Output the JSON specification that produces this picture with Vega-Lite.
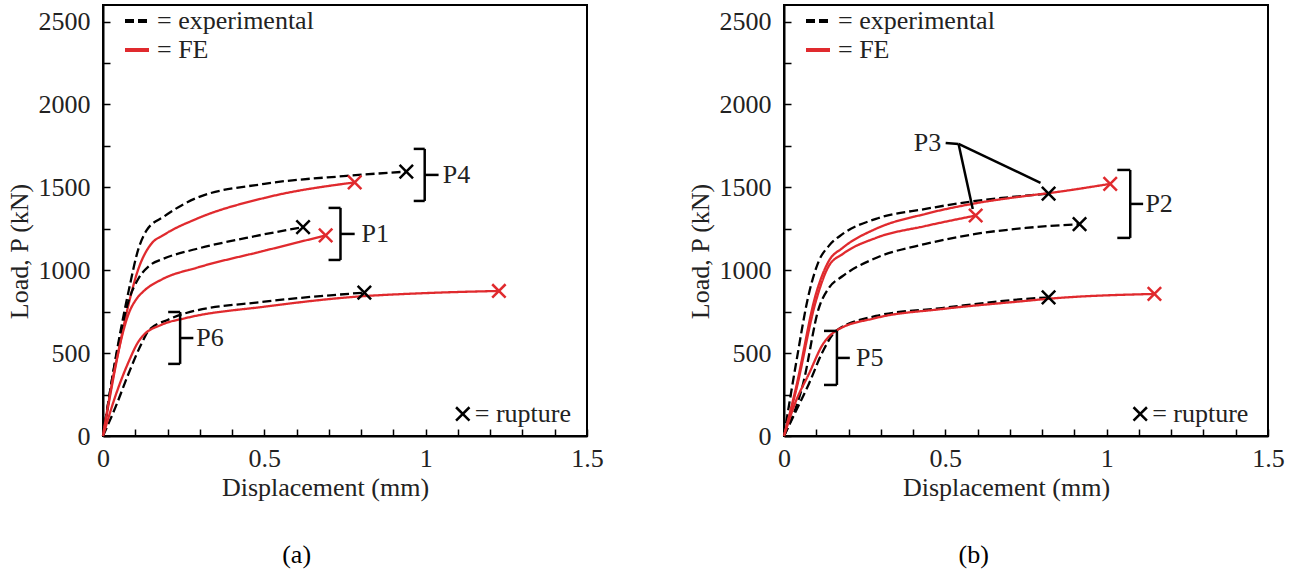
{
  "$schema": "https://vega.github.io/schema/vega-lite/v6.json",
  "padding": {"left": 5, "top": 4, "right": 5, "bottom": 0},
  "spacing": 81,
  "datasets": {
    "curves": [
      {"panel":"a","spec":"P4","type":"experimental","d":0,"load":0},
      {"panel":"a","spec":"P4","type":"experimental","d":0.04,"load":480},
      {"panel":"a","spec":"P4","type":"experimental","d":0.08,"load":880},
      {"panel":"a","spec":"P4","type":"experimental","d":0.11,"load":1130},
      {"panel":"a","spec":"P4","type":"experimental","d":0.135,"load":1240},
      {"panel":"a","spec":"P4","type":"experimental","d":0.19,"load":1325},
      {"panel":"a","spec":"P4","type":"experimental","d":0.29,"load":1436},
      {"panel":"a","spec":"P4","type":"experimental","d":0.5,"load":1521},
      {"panel":"a","spec":"P4","type":"experimental","d":0.755,"load":1569},
      {"panel":"a","spec":"P4","type":"experimental","d":0.94,"load":1595},
      {"panel":"a","spec":"P4","type":"FE","d":0,"load":0},
      {"panel":"a","spec":"P4","type":"FE","d":0.04,"load":430},
      {"panel":"a","spec":"P4","type":"FE","d":0.08,"load":800},
      {"panel":"a","spec":"P4","type":"FE","d":0.11,"load":1010},
      {"panel":"a","spec":"P4","type":"FE","d":0.13,"load":1100},
      {"panel":"a","spec":"P4","type":"FE","d":0.15,"load":1160},
      {"panel":"a","spec":"P4","type":"FE","d":0.19,"load":1215},
      {"panel":"a","spec":"P4","type":"FE","d":0.29,"load":1310},
      {"panel":"a","spec":"P4","type":"FE","d":0.5,"load":1436},
      {"panel":"a","spec":"P4","type":"FE","d":0.78,"load":1530},
      {"panel":"a","spec":"P1","type":"experimental","d":0,"load":0},
      {"panel":"a","spec":"P1","type":"experimental","d":0.04,"load":470},
      {"panel":"a","spec":"P1","type":"experimental","d":0.08,"load":820},
      {"panel":"a","spec":"P1","type":"experimental","d":0.11,"load":950},
      {"panel":"a","spec":"P1","type":"experimental","d":0.143,"load":1026},
      {"panel":"a","spec":"P1","type":"experimental","d":0.186,"load":1068},
      {"panel":"a","spec":"P1","type":"experimental","d":0.289,"load":1128},
      {"panel":"a","spec":"P1","type":"experimental","d":0.444,"load":1195},
      {"panel":"a","spec":"P1","type":"experimental","d":0.62,"load":1260},
      {"panel":"a","spec":"P1","type":"FE","d":0,"load":0},
      {"panel":"a","spec":"P1","type":"FE","d":0.04,"load":440},
      {"panel":"a","spec":"P1","type":"FE","d":0.08,"load":740},
      {"panel":"a","spec":"P1","type":"FE","d":0.105,"load":830},
      {"panel":"a","spec":"P1","type":"FE","d":0.124,"load":870},
      {"panel":"a","spec":"P1","type":"FE","d":0.186,"load":948},
      {"panel":"a","spec":"P1","type":"FE","d":0.289,"load":1014},
      {"panel":"a","spec":"P1","type":"FE","d":0.497,"load":1116},
      {"panel":"a","spec":"P1","type":"FE","d":0.69,"load":1210},
      {"panel":"a","spec":"P6","type":"experimental","d":0,"load":0},
      {"panel":"a","spec":"P6","type":"experimental","d":0.04,"load":180},
      {"panel":"a","spec":"P6","type":"experimental","d":0.08,"load":380},
      {"panel":"a","spec":"P6","type":"experimental","d":0.12,"load":560},
      {"panel":"a","spec":"P6","type":"experimental","d":0.143,"load":640},
      {"panel":"a","spec":"P6","type":"experimental","d":0.2,"load":700},
      {"panel":"a","spec":"P6","type":"experimental","d":0.258,"load":742},
      {"panel":"a","spec":"P6","type":"experimental","d":0.5,"load":810},
      {"panel":"a","spec":"P6","type":"experimental","d":0.81,"load":865},
      {"panel":"a","spec":"P6","type":"FE","d":0,"load":0},
      {"panel":"a","spec":"P6","type":"FE","d":0.04,"load":250},
      {"panel":"a","spec":"P6","type":"FE","d":0.08,"load":450},
      {"panel":"a","spec":"P6","type":"FE","d":0.11,"load":570},
      {"panel":"a","spec":"P6","type":"FE","d":0.124,"load":605},
      {"panel":"a","spec":"P6","type":"FE","d":0.18,"load":670},
      {"panel":"a","spec":"P6","type":"FE","d":0.258,"load":712},
      {"panel":"a","spec":"P6","type":"FE","d":0.5,"load":780},
      {"panel":"a","spec":"P6","type":"FE","d":0.776,"load":839},
      {"panel":"a","spec":"P6","type":"FE","d":1.0,"load":862},
      {"panel":"a","spec":"P6","type":"FE","d":1.227,"load":875},
      {"panel":"b","spec":"P3","type":"experimental","d":0,"load":0},
      {"panel":"b","spec":"P3","type":"experimental","d":0.037,"load":434},
      {"panel":"b","spec":"P3","type":"experimental","d":0.077,"load":857},
      {"panel":"b","spec":"P3","type":"experimental","d":0.108,"load":1056},
      {"panel":"b","spec":"P3","type":"experimental","d":0.139,"load":1147},
      {"panel":"b","spec":"P3","type":"experimental","d":0.182,"load":1219},
      {"panel":"b","spec":"P3","type":"experimental","d":0.285,"load":1310},
      {"panel":"b","spec":"P3","type":"experimental","d":0.439,"load":1370},
      {"panel":"b","spec":"P3","type":"experimental","d":0.594,"load":1418},
      {"panel":"b","spec":"P3","type":"experimental","d":0.749,"load":1450},
      {"panel":"b","spec":"P3","type":"experimental","d":0.82,"load":1462},
      {"panel":"b","spec":"P3","type":"FE","d":0,"load":0},
      {"panel":"b","spec":"P3","type":"FE","d":0.037,"load":271},
      {"panel":"b","spec":"P3","type":"FE","d":0.099,"load":815},
      {"panel":"b","spec":"P3","type":"FE","d":0.139,"load":1026},
      {"panel":"b","spec":"P3","type":"FE","d":0.182,"load":1098},
      {"panel":"b","spec":"P3","type":"FE","d":0.285,"load":1195},
      {"panel":"b","spec":"P3","type":"FE","d":0.439,"load":1267},
      {"panel":"b","spec":"P3","type":"FE","d":0.594,"load":1330},
      {"panel":"b","spec":"P2","type":"FE","d":0,"load":0},
      {"panel":"b","spec":"P2","type":"FE","d":0.037,"load":290},
      {"panel":"b","spec":"P2","type":"FE","d":0.099,"load":857},
      {"panel":"b","spec":"P2","type":"FE","d":0.139,"load":1056},
      {"panel":"b","spec":"P2","type":"FE","d":0.182,"load":1135},
      {"panel":"b","spec":"P2","type":"FE","d":0.285,"load":1250},
      {"panel":"b","spec":"P2","type":"FE","d":0.439,"load":1340},
      {"panel":"b","spec":"P2","type":"FE","d":0.594,"load":1404},
      {"panel":"b","spec":"P2","type":"FE","d":0.749,"load":1448},
      {"panel":"b","spec":"P2","type":"FE","d":0.82,"load":1465},
      {"panel":"b","spec":"P2","type":"FE","d":1.011,"load":1521},
      {"panel":"b","spec":"P2","type":"experimental","d":0,"load":0},
      {"panel":"b","spec":"P2","type":"experimental","d":0.059,"load":314},
      {"panel":"b","spec":"P2","type":"experimental","d":0.108,"load":772},
      {"panel":"b","spec":"P2","type":"experimental","d":0.139,"load":893},
      {"panel":"b","spec":"P2","type":"experimental","d":0.182,"load":965},
      {"panel":"b","spec":"P2","type":"experimental","d":0.285,"load":1074},
      {"panel":"b","spec":"P2","type":"experimental","d":0.439,"load":1159},
      {"panel":"b","spec":"P2","type":"experimental","d":0.594,"load":1219},
      {"panel":"b","spec":"P2","type":"experimental","d":0.749,"load":1255},
      {"panel":"b","spec":"P2","type":"experimental","d":0.916,"load":1278},
      {"panel":"b","spec":"P5","type":"experimental","d":0,"load":0},
      {"panel":"b","spec":"P5","type":"experimental","d":0.037,"load":151},
      {"panel":"b","spec":"P5","type":"experimental","d":0.077,"load":314},
      {"panel":"b","spec":"P5","type":"experimental","d":0.121,"load":513},
      {"panel":"b","spec":"P5","type":"experimental","d":0.161,"load":634},
      {"panel":"b","spec":"P5","type":"experimental","d":0.285,"load":724},
      {"panel":"b","spec":"P5","type":"experimental","d":0.49,"load":772},
      {"panel":"b","spec":"P5","type":"experimental","d":0.749,"load":827},
      {"panel":"b","spec":"P5","type":"experimental","d":0.82,"load":836},
      {"panel":"b","spec":"P5","type":"FE","d":0,"load":0},
      {"panel":"b","spec":"P5","type":"FE","d":0.037,"load":211},
      {"panel":"b","spec":"P5","type":"FE","d":0.077,"load":374},
      {"panel":"b","spec":"P5","type":"FE","d":0.121,"load":555},
      {"panel":"b","spec":"P5","type":"FE","d":0.161,"load":634},
      {"panel":"b","spec":"P5","type":"FE","d":0.285,"load":712},
      {"panel":"b","spec":"P5","type":"FE","d":0.49,"load":766},
      {"panel":"b","spec":"P5","type":"FE","d":0.749,"load":815},
      {"panel":"b","spec":"P5","type":"FE","d":0.82,"load":828},
      {"panel":"b","spec":"P5","type":"FE","d":1.148,"load":857}
    ],
    "ruptures": [
      {"panel":"a","kind":"experimental","d":0.94,"load":1595},
      {"panel":"a","kind":"FE","d":0.78,"load":1530},
      {"panel":"a","kind":"experimental","d":0.62,"load":1260},
      {"panel":"a","kind":"FE","d":0.69,"load":1210},
      {"panel":"a","kind":"experimental","d":0.81,"load":865},
      {"panel":"a","kind":"FE","d":1.227,"load":875},
      {"panel":"a","kind":"key","d":1.115,"load":133},
      {"panel":"b","kind":"experimental","d":0.82,"load":1462},
      {"panel":"b","kind":"FE","d":0.594,"load":1330},
      {"panel":"b","kind":"FE","d":1.011,"load":1521},
      {"panel":"b","kind":"experimental","d":0.916,"load":1278},
      {"panel":"b","kind":"experimental","d":0.82,"load":836},
      {"panel":"b","kind":"FE","d":1.148,"load":857},
      {"panel":"b","kind":"key","d":1.104,"load":133}
    ],
    "segments": [
      {"panel":"a","d":0.997,"load":1418,"d2":0.997,"load2":1732},
      {"panel":"a","d":0.963,"load":1732,"d2":0.997,"load2":1732},
      {"panel":"a","d":0.963,"load":1418,"d2":0.997,"load2":1418},
      {"panel":"a","d":0.997,"load":1575,"d2":1.04,"load2":1575},
      {"panel":"a","d":0.736,"load":1062,"d2":0.736,"load2":1376},
      {"panel":"a","d":0.699,"load":1376,"d2":0.736,"load2":1376},
      {"panel":"a","d":0.699,"load":1062,"d2":0.736,"load2":1062},
      {"panel":"a","d":0.736,"load":1219,"d2":0.78,"load2":1219},
      {"panel":"a","d":0.239,"load":435,"d2":0.239,"load2":748},
      {"panel":"a","d":0.202,"load":748,"d2":0.239,"load2":748},
      {"panel":"a","d":0.202,"load":435,"d2":0.239,"load2":435},
      {"panel":"a","d":0.239,"load":591,"d2":0.28,"load2":591},
      {"panel":"b","d":1.073,"load":1195,"d2":1.073,"load2":1605},
      {"panel":"b","d":1.033,"load":1605,"d2":1.073,"load2":1605},
      {"panel":"b","d":1.033,"load":1195,"d2":1.073,"load2":1195},
      {"panel":"b","d":1.073,"load":1400,"d2":1.113,"load2":1400},
      {"panel":"b","d":0.164,"load":308,"d2":0.164,"load2":634},
      {"panel":"b","d":0.124,"load":634,"d2":0.164,"load2":634},
      {"panel":"b","d":0.124,"load":308,"d2":0.164,"load2":308},
      {"panel":"b","d":0.164,"load":471,"d2":0.204,"load2":471},
      {"panel":"b","d":0.501,"load":1768,"d2":0.541,"load2":1762},
      {"panel":"b","d":0.541,"load":1762,"d2":0.585,"load2":1370},
      {"panel":"b","d":0.541,"load":1762,"d2":0.795,"load2":1527}
    ],
    "labels": [
      {"panel":"a","text":"P4","d":1.053,"load":1575},
      {"panel":"a","text":"P1","d":0.801,"load":1219},
      {"panel":"a","text":"P6","d":0.289,"load":591},
      {"panel":"a","text":"= rupture","d":1.152,"load":133},
      {"panel":"b","text":"P2","d":1.12,"load":1400},
      {"panel":"b","text":"P5","d":0.223,"load":471},
      {"panel":"b","text":"P3","d":0.402,"load":1768},
      {"panel":"b","text":"= rupture","d":1.141,"load":133}
    ]
  },
  "hconcat": [
    {
      "width": 484,
      "height": 431,
      "title": {"text": "(a)", "orient": "bottom", "anchor": "middle", "frame": "bounds", "offset": 42, "dx": -8, "fontSize": 26, "fontWeight": "normal", "font": "Liberation Serif", "color": "black"},
      "resolve": {"axis": {"x": "independent", "y": "independent"}},
      "layer": [
        {
          "data": {"name": "curves"},
          "transform": [{"filter": "datum.panel == 'a'"}],
          "mark": {"type": "line", "interpolate": "monotone", "strokeWidth": 2.3},
          "encoding": {
            "x": {"field": "d", "type": "quantitative", "scale": {"domain": [0, 1.5], "nice": false},
                  "axis": {"orient": "bottom", "title": "Displacement (mm)", "values": [0, 0.5, 1, 1.5], "format": "~g"}},
            "y": {"field": "load", "type": "quantitative", "scale": {"domain": [0, 2600], "nice": false},
                  "axis": {"orient": "left", "title": "Load, P (kN)", "values": [0, 500, 1000, 1500, 2000, 2500], "format": "d"}},
            "color": {"field": "type", "type": "nominal", "scale": {"domain": ["experimental", "FE"], "range": ["black", "#e02a2e"]},
                      "legend": {"title": null, "labelExpr": "'= ' + datum.label"}},
            "strokeDash": {"field": "type", "type": "nominal", "scale": {"domain": ["experimental", "FE"], "range": [[9, 4], [1, 0]]},
                           "legend": {"title": null, "labelExpr": "'= ' + datum.label"}},
            "detail": {"field": "spec"}
          }
        },
        {
          "data": {"name": "segments"},
          "transform": [{"filter": "datum.panel == 'a'"}],
          "mark": {"type": "rule", "color": "black", "strokeWidth": 2.5},
          "encoding": {
            "x": {"field": "d", "type": "quantitative",
                  "axis": {"orient": "bottom", "title": null, "labels": false, "domain": false, "values": [0.1,0.2,0.3,0.4,0.6,0.7,0.8,0.9,1.1,1.2,1.3,1.4]}},
            "y": {"field": "load", "type": "quantitative",
                  "axis": {"orient": "left", "title": null, "labels": false, "domain": false, "values": [250, 750, 1250, 1750, 2250]}},
            "x2": {"field": "d2"},
            "y2": {"field": "load2"}
          }
        },
        {
          "data": {"name": "ruptures"},
          "transform": [{"filter": "datum.panel == 'a'"}],
          "mark": {"type": "point", "shape": "M-1,-1L1,1M-1,1L1,-1", "filled": false, "size": 180, "strokeWidth": 2.5, "opacity": 1},
          "encoding": {
            "x": {"field": "d", "type": "quantitative", "axis": null},
            "y": {"field": "load", "type": "quantitative", "axis": null},
            "stroke": {"field": "kind", "type": "nominal", "scale": {"domain": ["experimental", "FE", "key"], "range": ["black", "#e02a2e", "black"]}, "legend": null}
          }
        },
        {
          "data": {"name": "labels"},
          "transform": [{"filter": "datum.panel == 'a'"}],
          "mark": {"type": "text", "align": "left", "baseline": "middle", "fontSize": 26, "font": "Liberation Serif", "color": "#222"},
          "encoding": {
            "x": {"field": "d", "type": "quantitative", "axis": null},
            "y": {"field": "load", "type": "quantitative", "axis": null},
            "text": {"field": "text"}
          }
        }
      ]
    },
    {
      "width": 484,
      "height": 431,
      "title": {"text": "(b)", "orient": "bottom", "anchor": "middle", "frame": "bounds", "offset": 42, "dx": -12, "fontSize": 26, "fontWeight": "normal", "font": "Liberation Serif", "color": "black"},
      "resolve": {"axis": {"x": "independent", "y": "independent"}},
      "layer": [
        {
          "data": {"name": "curves"},
          "transform": [{"filter": "datum.panel == 'b'"}],
          "mark": {"type": "line", "interpolate": "monotone", "strokeWidth": 2.3},
          "encoding": {
            "x": {"field": "d", "type": "quantitative", "scale": {"domain": [0, 1.5], "nice": false},
                  "axis": {"orient": "bottom", "title": "Displacement (mm)", "values": [0, 0.5, 1, 1.5], "format": "~g"}},
            "y": {"field": "load", "type": "quantitative", "scale": {"domain": [0, 2600], "nice": false},
                  "axis": {"orient": "left", "title": "Load, P (kN)", "values": [0, 500, 1000, 1500, 2000, 2500], "format": "d"}},
            "color": {"field": "type", "type": "nominal", "scale": {"domain": ["experimental", "FE"], "range": ["black", "#e02a2e"]},
                      "legend": {"title": null, "labelExpr": "'= ' + datum.label"}},
            "strokeDash": {"field": "type", "type": "nominal", "scale": {"domain": ["experimental", "FE"], "range": [[9, 4], [1, 0]]},
                           "legend": {"title": null, "labelExpr": "'= ' + datum.label"}},
            "detail": {"field": "spec"}
          }
        },
        {
          "data": {"name": "segments"},
          "transform": [{"filter": "datum.panel == 'b'"}],
          "mark": {"type": "rule", "color": "black", "strokeWidth": 2.5},
          "encoding": {
            "x": {"field": "d", "type": "quantitative",
                  "axis": {"orient": "bottom", "title": null, "labels": false, "domain": false, "values": [0.1,0.2,0.3,0.4,0.6,0.7,0.8,0.9,1.1,1.2,1.3,1.4]}},
            "y": {"field": "load", "type": "quantitative",
                  "axis": {"orient": "left", "title": null, "labels": false, "domain": false, "values": [250, 750, 1250, 1750, 2250]}},
            "x2": {"field": "d2"},
            "y2": {"field": "load2"}
          }
        },
        {
          "data": {"name": "ruptures"},
          "transform": [{"filter": "datum.panel == 'b'"}],
          "mark": {"type": "point", "shape": "M-1,-1L1,1M-1,1L1,-1", "filled": false, "size": 180, "strokeWidth": 2.5, "opacity": 1},
          "encoding": {
            "x": {"field": "d", "type": "quantitative", "axis": null},
            "y": {"field": "load", "type": "quantitative", "axis": null},
            "stroke": {"field": "kind", "type": "nominal", "scale": {"domain": ["experimental", "FE", "key"], "range": ["black", "#e02a2e", "black"]}, "legend": null}
          }
        },
        {
          "data": {"name": "labels"},
          "transform": [{"filter": "datum.panel == 'b'"}],
          "mark": {"type": "text", "align": "left", "baseline": "middle", "fontSize": 26, "font": "Liberation Serif", "color": "#222"},
          "encoding": {
            "x": {"field": "d", "type": "quantitative", "axis": null},
            "y": {"field": "load", "type": "quantitative", "axis": null},
            "text": {"field": "text"}
          }
        }
      ]
    }
  ],
  "resolve": {"legend": {"color": "independent", "strokeDash": "independent"}},
  "config": {
    "font": "Liberation Serif",
    "background": "white",
    "view": {"stroke": "black", "strokeWidth": 2},
    "axis": {
      "grid": false,
      "domainColor": "black",
      "domainWidth": 2,
      "tickColor": "black",
      "tickWidth": 1.5,
      "tickSize": -7,
      "labelFont": "Liberation Serif",
      "labelFontSize": 26,
      "labelColor": "#222",
      "labelFlush": false,
      "labelOverlap": false,
      "titleFont": "Liberation Serif",
      "titleFontSize": 26,
      "titleFontWeight": "normal",
      "titleColor": "#222"
    },
    "axisX": {"labelPadding": 16, "titlePadding": 3, "titleX": 222},
    "axisY": {"labelPadding": 20, "titlePadding": 6, "titleY": 246},
    "legend": {
      "orient": "none",
      "legendX": 20,
      "legendY": 2,
      "labelFont": "Liberation Serif",
      "labelFontSize": 26,
      "labelColor": "#222",
      "symbolType": "stroke",
      "symbolSize": 576,
      "symbolStrokeWidth": 4,
      "rowPadding": 2,
      "labelOffset": 6
    }
  }
}
